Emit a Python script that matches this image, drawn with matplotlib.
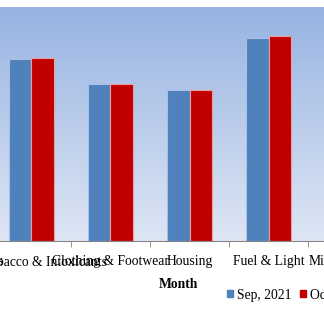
import numpy as np
import matplotlib
matplotlib.use('Agg')
from matplotlib import pyplot as plt
from matplotlib.patches import Patch

# data (index values)
categories = ['Food & Beverages', 'Pan, Tobacco & Intoxicants', 'Clothing & Footwear',
              'Housing', 'Fuel & Light', 'Miscellaneous']
sep_2021 = [165.0, 155.6, 134.2, 129.1, 173.5, 160.0]
oct_2021 = [166.0, 156.4, 134.2, 129.1, 175.2, 161.0]
series_names = ['Sep, 2021', 'Oct, 2021']

plt.rcParams['font.family'] = ['Liberation Serif', 'DejaVu Serif']

fig = plt.figure(figsize=(3.24, 3.19), dpi=100)
W, H = 324, 319
# plot area is wider than the picture (the picture is a crop)
left_px, right_px = -87.5, 387.5
ax = fig.add_axes([left_px / W, 78 / H, (right_px - left_px) / W, 234 / H])

x = np.arange(len(categories))
w = 0.285

# gradient background
grad = np.linspace(0, 1, 256).reshape(256, 1, 1)
top = np.array([151, 179, 226]) / 255
bot = np.array([222, 230, 244]) / 255
img = top + (bot - top) * grad
ax.imshow(img, extent=[-0.5, len(categories) - 0.5, 0, 200], aspect='auto',
          zorder=0, origin='upper')

ax.bar(x - w / 2, sep_2021, w, color='#4F81BD', edgecolor='#a9c0e6', linewidth=0.8, zorder=2)
ax.bar(x + w / 2, oct_2021, w, color='#C00000', edgecolor='#e8a0a0', linewidth=0.8, zorder=2)

ax.set_xlim(-0.5, len(categories) - 0.5)
ax.set_ylim(0, 200)
ax.set_xticks(x)
ax.set_xticklabels(categories, fontsize=9.8)
ax.set_xticks(x[:-1] + 0.5, minor=True)
ax.tick_params(axis='x', which='major', length=0, pad=10)
ax.tick_params(axis='x', which='minor', length=4, color='#868686')
ax.set_yticks([])
for s in ['top', 'right', 'left']:
    ax.spines[s].set_visible(False)
ax.spines['bottom'].set_color('#868686')

fig.text(178 / W, 1 - 285 / H, 'Month', fontsize=9.8, fontweight='bold',
         ha='center', va='center')

handles = [Patch(color='#4F81BD'), Patch(color='#C00000')]
fig.legend(handles, series_names, loc='center left', bbox_to_anchor=(227 / W, 1 - 295 / H),
           frameon=False, fontsize=9.8, handlelength=0.45, handleheight=0.45,
           handletextpad=0.3, columnspacing=0.6, ncol=2, borderaxespad=0, borderpad=0)

fig.savefig('out.png', dpi=100)
